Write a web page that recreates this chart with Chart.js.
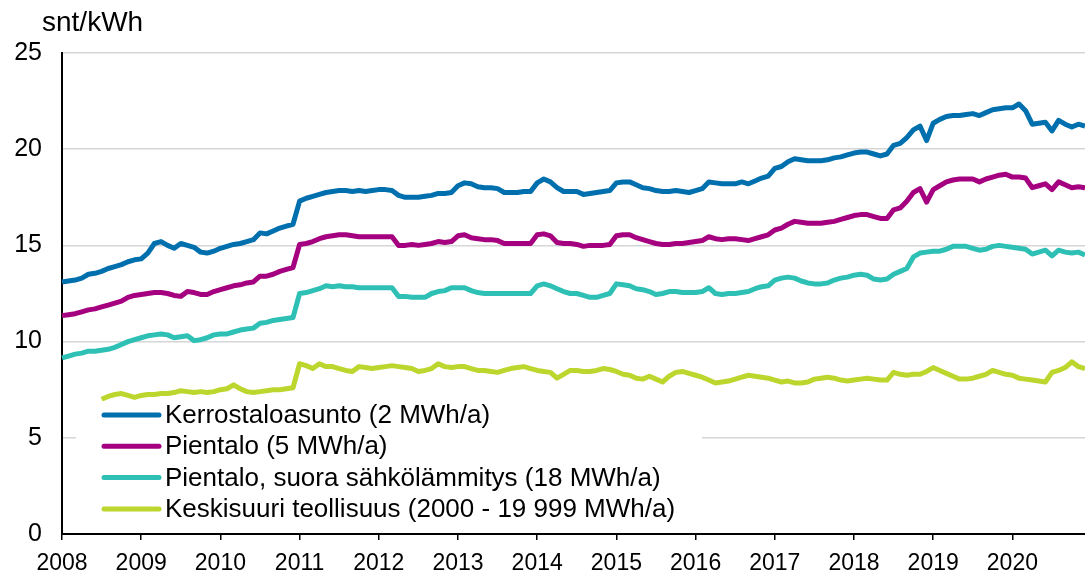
<!DOCTYPE html>
<html>
<head>
<meta charset="utf-8">
<script src="https://cdn.jsdelivr.net/npm/chart.js@4.4.0/dist/chart.umd.min.js"></script>
<style>
  body { margin: 0; background: #fff; }
  #wrap { position: relative; width: 1085px; height: 573px; }
</style>
</head>
<body>
<div id="wrap"><canvas id="chart"></canvas></div>
<script>
// kuukaudet 2008M01 - 2020M12
const years = [2008, 2009, 2010, 2011, 2012, 2013, 2014, 2015, 2016, 2017, 2018, 2019, 2020];
const months = ['01','02','03','04','05','06','07','08','09','10','11','12'];
const labels = [];
years.forEach(y => months.forEach(m => labels.push(y + 'M' + m)));

const seriesNames = [
  'Kerrostaloasunto (2 MWh/a)',
  'Pientalo (5 MWh/a)',
  'Pientalo, suora sähkölämmitys (18 MWh/a)',
  'Keskisuuri teollisuus (2000 - 19 999 MWh/a)'
];
const seriesColors = ['#006fae', '#a4007f', '#2ec0b5', '#bdd62e'];

const kerrostalo = [
  13.1, 13.15, 13.2, 13.3, 13.5, 13.55, 13.65, 13.8, 13.9, 14.0, 14.15, 14.25,
  14.3, 14.6, 15.1, 15.2, 15.0, 14.85, 15.1, 15.0, 14.9, 14.65, 14.6, 14.7,
  14.85, 14.95, 15.05, 15.1, 15.2, 15.3, 15.65, 15.6, 15.75, 15.9, 16.0, 16.1,
  17.3, 17.45, 17.55, 17.65, 17.75, 17.8, 17.85, 17.85, 17.8, 17.85, 17.8, 17.85,
  17.9, 17.9, 17.85, 17.6, 17.5, 17.5, 17.5, 17.55, 17.6, 17.7, 17.7, 17.75,
  18.1, 18.25, 18.2, 18.05, 18.0, 18.0, 17.95, 17.75, 17.75, 17.75, 17.8, 17.8,
  18.25, 18.45, 18.3, 18.0, 17.8, 17.8, 17.8, 17.65, 17.7, 17.75, 17.8, 17.85,
  18.25, 18.3, 18.3, 18.15, 18.0, 17.95, 17.85, 17.8, 17.8, 17.85, 17.8, 17.75,
  17.85, 17.95, 18.3, 18.25, 18.2, 18.2, 18.2, 18.3, 18.2, 18.35, 18.5, 18.6,
  19.0, 19.1, 19.35, 19.5, 19.45, 19.4, 19.4, 19.4, 19.45, 19.55, 19.6, 19.7,
  19.8, 19.85, 19.85, 19.75, 19.65, 19.75, 20.2, 20.3, 20.6, 21.0, 21.2, 20.45,
  21.35, 21.55, 21.7, 21.75, 21.75, 21.8, 21.85, 21.75, 21.9, 22.05, 22.1, 22.15,
  22.15, 22.35, 22.0, 21.3, 21.35, 21.4, 20.95, 21.5, 21.3, 21.15, 21.3, 21.2
];
const pientalo = [
  11.35, 11.4, 11.45, 11.55, 11.65, 11.7, 11.8, 11.9, 12.0, 12.1, 12.3, 12.4,
  12.45, 12.5, 12.55, 12.55, 12.5, 12.4, 12.35, 12.6, 12.55, 12.45, 12.45, 12.6,
  12.7, 12.8, 12.9, 12.95, 13.05, 13.1, 13.4, 13.4, 13.5, 13.65, 13.75, 13.85,
  15.05, 15.1, 15.2, 15.35, 15.45, 15.5, 15.55, 15.55, 15.5, 15.45, 15.45, 15.45,
  15.45, 15.45, 15.45, 15.0, 15.0, 15.05, 15.0, 15.05, 15.1, 15.2, 15.15, 15.2,
  15.5, 15.55, 15.4, 15.35, 15.3, 15.3, 15.25, 15.1, 15.1, 15.1, 15.1, 15.1,
  15.55, 15.6, 15.5, 15.15, 15.1, 15.1, 15.05, 14.95, 15.0, 15.0, 15.0, 15.05,
  15.5, 15.55, 15.55, 15.4, 15.3, 15.2, 15.1, 15.05, 15.05, 15.1, 15.1, 15.15,
  15.2, 15.25, 15.45, 15.35, 15.3, 15.35, 15.35, 15.3, 15.25, 15.35, 15.45, 15.55,
  15.8, 15.9, 16.1, 16.25, 16.2, 16.15, 16.15, 16.15, 16.2, 16.25, 16.35, 16.45,
  16.55, 16.6, 16.6, 16.5, 16.4, 16.4, 16.85, 16.95, 17.3, 17.75, 17.95, 17.25,
  17.9, 18.1, 18.3, 18.4, 18.45, 18.45, 18.45, 18.3, 18.45, 18.55, 18.65, 18.7,
  18.55, 18.55, 18.5, 18.0, 18.1, 18.2, 17.9, 18.3, 18.15, 18.0, 18.05, 18.0
];
const sahkolammitys = [
  9.15, 9.25, 9.35, 9.4, 9.5, 9.5, 9.55, 9.6, 9.7, 9.85, 10.0, 10.1,
  10.2, 10.3, 10.35, 10.4, 10.35, 10.2, 10.25, 10.3, 10.05, 10.1, 10.2, 10.35,
  10.4, 10.4, 10.5, 10.6, 10.65, 10.7, 10.95, 11.0, 11.1, 11.15, 11.2, 11.25,
  12.5, 12.55, 12.65, 12.75, 12.9, 12.85, 12.9, 12.85, 12.85, 12.8, 12.8, 12.8,
  12.8, 12.8, 12.8, 12.35, 12.35, 12.3, 12.3, 12.3, 12.5, 12.6, 12.65, 12.8,
  12.8, 12.8, 12.65, 12.55, 12.5, 12.5, 12.5, 12.5, 12.5, 12.5, 12.5, 12.5,
  12.9, 13.0, 12.9, 12.75, 12.6, 12.5, 12.5, 12.4, 12.3, 12.3, 12.4, 12.5,
  13.0, 12.95, 12.9, 12.75, 12.7, 12.6, 12.45, 12.5, 12.6, 12.6, 12.55, 12.55,
  12.55, 12.6, 12.8, 12.5, 12.45, 12.5, 12.5, 12.55, 12.6, 12.75, 12.85, 12.9,
  13.2, 13.3, 13.35, 13.3, 13.15, 13.05, 13.0, 13.0, 13.05, 13.2, 13.3, 13.35,
  13.45, 13.5, 13.45, 13.25, 13.2, 13.25, 13.5, 13.65, 13.8, 14.4, 14.6, 14.65,
  14.7, 14.7, 14.8, 14.95, 14.95, 14.95, 14.85, 14.75, 14.8, 14.95, 15.0, 14.95,
  14.9, 14.85, 14.8, 14.55, 14.65, 14.75, 14.45, 14.75, 14.65, 14.6, 14.65, 14.5
];
const teollisuus = [
  null, null, null, null, null, null, 7.0, 7.15, 7.25, 7.3, 7.2, 7.1,
  7.2, 7.25, 7.25, 7.3, 7.3, 7.35, 7.45, 7.4, 7.35, 7.4, 7.35, 7.4,
  7.5, 7.55, 7.75, 7.55, 7.4, 7.35, 7.4, 7.45, 7.5, 7.5, 7.55, 7.6,
  8.85, 8.75, 8.6, 8.85, 8.7, 8.7, 8.6, 8.5, 8.45, 8.7, 8.65, 8.6,
  8.65, 8.7, 8.75, 8.7, 8.65, 8.6, 8.45, 8.5, 8.6, 8.85, 8.7, 8.65,
  8.7, 8.7, 8.6, 8.5, 8.5, 8.45, 8.4, 8.5, 8.6, 8.65, 8.7, 8.6,
  8.5, 8.45, 8.4, 8.1, 8.3, 8.5, 8.5, 8.45, 8.45, 8.5, 8.6, 8.55,
  8.45, 8.3, 8.25, 8.1, 8.05, 8.2, 8.05, 7.9, 8.2, 8.4, 8.45, 8.35,
  8.25, 8.15, 8.0, 7.85, 7.9, 7.95, 8.05, 8.15, 8.25, 8.2, 8.15, 8.1,
  8.0, 7.9, 7.95, 7.85, 7.85, 7.9, 8.05, 8.1, 8.15, 8.1, 8.0, 7.95,
  8.0, 8.05, 8.1, 8.05, 8.0, 8.0, 8.4, 8.3, 8.25, 8.3, 8.3, 8.45,
  8.65, 8.5, 8.35, 8.2, 8.05, 8.05, 8.1, 8.2, 8.3, 8.5, 8.4, 8.3,
  8.25, 8.1, 8.05, 8.0, 7.95, 7.9, 8.4, 8.5, 8.65, 8.95, 8.7, 8.6
];
const seriesData = [kerrostalo, pientalo, sahkolammitys, teollisuus];

const fontFam = '"Liberation Sans", Arial, sans-serif';

function isJanuary(i) {
  return labels[i] && labels[i].endsWith('M01');
}

// otsikko ja selite piirretaan itse
const extras = {
  id: 'extras',
  afterDatasetsDraw(chart) {
    const ctx = chart.ctx;
    ctx.save();
    // selitelaatikko valkoisella pohjalla
    ctx.fillStyle = '#fff';
    ctx.fillRect(76, 401, 626, 126);
    ctx.font = '26px ' + fontFam;
    ctx.textBaseline = 'middle';
    ctx.lineCap = 'round';
    chart.data.datasets.forEach((ds, i) => {
      const y = 415 + i * 31.3;
      ctx.strokeStyle = ds.borderColor;
      ctx.lineWidth = 5;
      ctx.beginPath();
      ctx.moveTo(104, y);
      ctx.lineTo(159, y);
      ctx.stroke();
      ctx.fillStyle = '#000';
      ctx.fillText(ds.label, 165, y + 1);
    });
    // yksikko
    ctx.font = '28px ' + fontFam;
    ctx.textBaseline = 'alphabetic';
    ctx.fillText('snt/kWh', 42, 31);
    ctx.restore();
  }
};

new Chart(document.getElementById('chart'), {
  type: 'line',
  data: {
    labels: labels,
    datasets: seriesData.map((d, i) => ({
      label: seriesNames[i],
      data: d,
      borderColor: seriesColors[i],
      backgroundColor: seriesColors[i],
      borderWidth: 5,
      pointRadius: 0,
      tension: 0,
      borderJoinStyle: 'round',
      spanGaps: false
    }))
  },
  options: {
    responsive: true,
    maintainAspectRatio: false,
    devicePixelRatio: 1,
    animation: false,
    layout: { padding: { top: 53, right: 0, left: 0, bottom: 0 } },
    plugins: {
      legend: { display: false },
      tooltip: { enabled: false }
    },
    scales: {
      x: {
        offset: false,
        afterFit: (scale) => {
          scale.height = 39;
          scale.paddingRight = 0;
        },
        border: { display: true, color: '#000', width: 2 },
        grid: {
          drawOnChartArea: false,
          drawTicks: true,
          tickLength: 6,
          lineWidth: 1.5,
          color: (c) => isJanuary(c.index) ? '#000' : 'rgba(0,0,0,0)'
        },
        ticks: {
          autoSkip: false,
          maxRotation: 0,
          minRotation: 0,
          padding: 10,
          color: '#000',
          font: { family: fontFam, size: 23 },
          callback: function (value, index) {
            return isJanuary(index) ? labels[index].slice(0, 4) : '';
          }
        }
      },
      y: {
        min: 0,
        max: 25,
        afterFit: (scale) => { scale.width = 62; },
        border: { display: true, color: '#000', width: 2 },
        grid: {
          color: '#d6d6d6',
          lineWidth: 1.5,
          drawTicks: false
        },
        ticks: {
          stepSize: 5,
          padding: 20,
          color: '#000',
          font: { family: fontFam, size: 25 }
        }
      }
    }
  },
  plugins: [extras]
});
</script>
</body>
</html>
